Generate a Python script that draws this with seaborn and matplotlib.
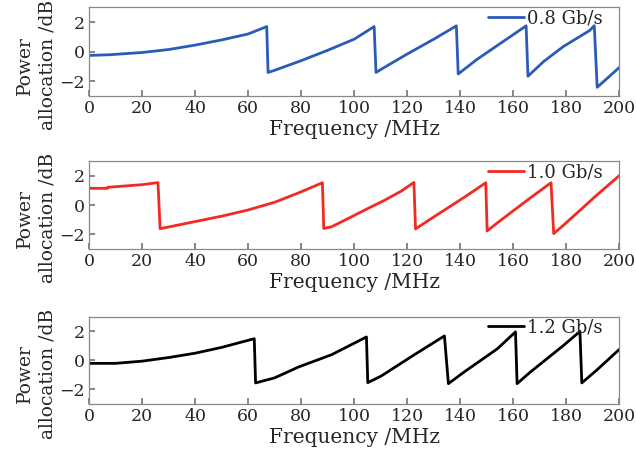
import numpy as np
import pandas as pd
import matplotlib
matplotlib.use("Agg")
import matplotlib.pyplot as plt
import seaborn as sns

# frequency (MHz) / power allocation (dB)
f_08 = [0, 8, 20, 30, 40, 50, 60, 67, 67.5, 70, 80, 90, 100, 107.5, 108.2, 110, 120, 130, 138.5, 139.2,
        146.4, 154, 159, 164.8, 165.5, 171.4, 178.9, 188.8, 190.5, 191.6, 200]
p_08 = [-0.25, -0.2, -0.05, 0.15, 0.45, 0.8, 1.2, 1.7, -1.4, -1.25, -0.6, 0.1, 0.85, 1.7, -1.4, -1.2, -0.15, 0.85, 1.75, -1.5,
        -0.5, 0.43, 1.04, 1.75, -1.65, -0.66, 0.36, 1.44, 1.76, -2.4, -1.05]

f_10 = [0, 6.9, 7.0, 20, 26, 26.8, 29.1, 39.7, 50, 59.7, 70, 79, 88, 88.5, 91.5, 99, 105.2, 111.5, 117.7, 122.5, 123.1,
        128.9, 141.4, 149.6, 150.1, 154, 166.4, 174.2, 175.2, 179, 191.4, 200]
p_10 = [1.15, 1.15, 1.22, 1.4, 1.54, -1.6, -1.52, -1.13, -0.75, -0.34, 0.2, 0.84, 1.53, -1.59, -1.47, -0.79, -0.22, 0.34, 0.96, 1.55, -1.62,
        -0.93, 0.53, 1.53, -1.76, -1.2, 0.5, 1.53, -1.94, -1.35, 0.68, 2.03]

f_12 = [0, 10, 20, 30, 40, 50, 62.3, 62.8, 70, 79, 91.5, 104.6, 105.1, 110.2, 122.7, 134, 135.5, 141.4, 154,
        160.8, 161.4, 166.4, 179, 185.1, 185.8, 191.4, 200]
p_12 = [-0.2, -0.2, -0.05, 0.2, 0.5, 0.9, 1.5, -1.55, -1.2, -0.45, 0.4, 1.62, -1.53, -1.07, 0.4, 1.69, -1.6, -0.8, 0.81,
        1.97, -1.6, -0.8, 1.05, 2.0, -1.55, -0.67, 0.77]

labels = ["0.8 Gb/s", "1.0 Gb/s", "1.2 Gb/s"]
colors = ["#2b5bb8", "#f22a22", "#000000"]

sns.set_theme(style="ticks")
plt.rcParams["font.family"] = ["DejaVu Serif"]
plt.rcParams["mathtext.fontset"] = "dejavuserif"

fig = plt.figure(figsize=(6.36, 4.58), dpi=100)
# [left, bottom, width, height] in figure fractions
boxes = [[0.140, 0.790, 0.834, 0.194],
         [0.140, 0.456, 0.834, 0.192],
         [0.140, 0.118, 0.834, 0.190]]

for box, f, p, lab, c in zip(boxes, [f_08, f_10, f_12], [p_08, p_10, p_12], labels, colors):
    ax = fig.add_axes(box)
    df = pd.DataFrame({"f": f, "p": p})
    sns.lineplot(data=df, x="f", y="p", ax=ax, color=c, lw=2, label=lab, sort=False)
    ax.set_xlim(0, 200)
    ax.set_ylim(-3, 3)
    ax.set_xticks(range(0, 201, 20))
    ax.set_yticks([-2, 0, 2])
    ax.set_yticklabels(["\u22122", "0", "2"])
    ax.tick_params(direction="in", labelsize=12.5, length=4, color="#777777", pad=3)
    for s in ax.spines.values():
        s.set_color("#888888")
        s.set_linewidth(0.9)
    ax.set_xlabel("Frequency /MHz", fontsize=14.5, labelpad=2)
    ax.set_ylabel("Power\nallocation /dB", fontsize=13.5, linespacing=1.3)
    ax.yaxis.set_label_coords(-0.062, 0.35)
    ax.legend(loc="center right", frameon=False, fontsize=13, handlelength=2.0,
              handletextpad=0.15, borderpad=0, borderaxespad=0,
              bbox_to_anchor=(0.968, 0.875))

fig.savefig("out.png", dpi=100)
